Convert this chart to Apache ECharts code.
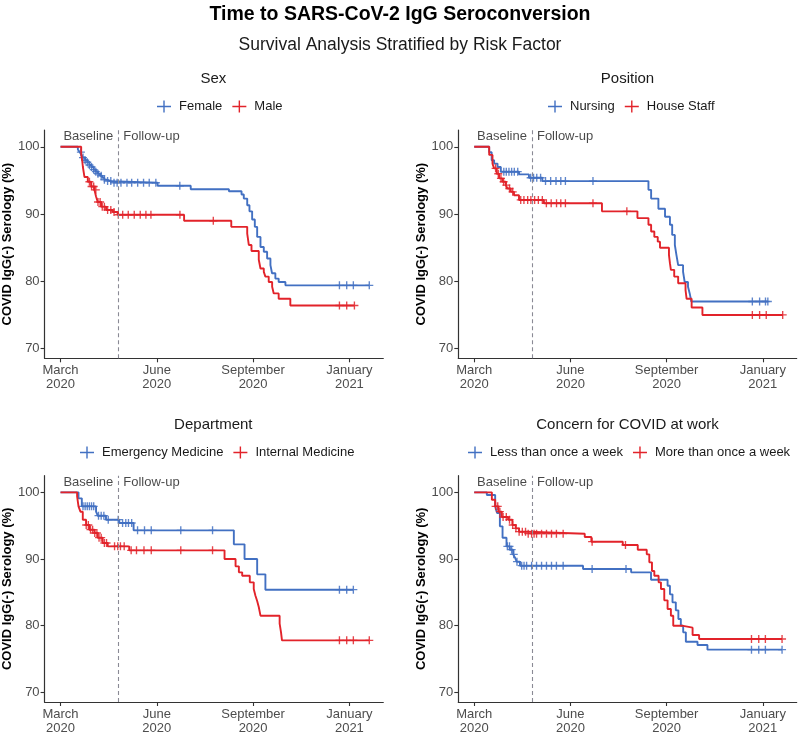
<!DOCTYPE html>
<html>
<head>
<meta charset="utf-8">
<script src="https://cdn.jsdelivr.net/npm/echarts@6/dist/echarts.min.js"></script>
<style>
html,body{margin:0;padding:0;background:#fff;}
#chart{width:800px;height:735px;}
</style>
</head>
<body>
<div id="chart"></div>
<script>
// ---------- DATA ----------
const xTickDays = [0, 90, 180, 270];
const xTickLabels = ['March\n2020', 'June\n2020', 'September\n2020', 'January\n2021'];
const yTicks = [70, 80, 90, 100];
const baselineDay = 54;
const annotationY = 101.5;

// Panel 1: Sex
const femaleSteps = [[0,100],[16.2,99.6],[18,99.2],[19.5,98.8],[21,98.4],[23,98.0],[25,97.7],[27,97.3],[29,97.0],[31,96.6],[33,96.3],[35,96.0],[37,95.7],[39,95.4],[41,95.1],[44,94.9],[47.2,94.65],[90.7,94.2],[121.7,93.7],[157.4,93.4],[169.2,92.9],[171.3,92.3],[174.5,91.3],[176.6,90.4],[179.1,89.2],[181.6,88.1],[183.8,86.6],[186.9,85.1],[190,84.4],[193.1,83.4],[196.2,82.4],[197.7,81.2],[200.8,80.4],[203.9,79.9],[210.2,79.4],[288.6,79.4]];
const femaleCensor = [19,21,23,25,27,29,31,33,35,38,41,44,47,50,52.9,56.5,62.1,66.5,72.1,77.6,82.9,89.1,111.5,260.7,267.5,273.7,288.6];
const maleSteps = [[0,100],[19.3,99.0],[20.2,98.0],[20.9,97.0],[22.4,95.5],[25.5,94.8],[28.6,94.1],[31.7,93.6],[33.2,92.6],[34.8,91.8],[37.9,91.1],[42.6,90.6],[48.8,90.3],[53.4,89.9],[115.5,89.0],[159.6,88.1],[174.5,87.1],[176,85.4],[178.5,84.5],[185.3,83.2],[186.9,81.9],[190,81.4],[191.5,80.7],[194.6,79.9],[197.8,79.2],[199.3,78.2],[203.9,77.4],[214.8,76.4],[274.7,76.4]];
const maleCensor = [27,29,31,33,35,37,39,41,44,47,50,54,58.1,63.3,68.9,74.5,79.8,84.5,111.6,142.8,260.7,267.5,274.7];

// Panel 2: Position
const nursingSteps = [[0,100],[14,99.2],[16.3,98.0],[18.6,97.5],[21.8,97.0],[24.9,96.3],[41.9,95.9],[51.2,95.4],[63.7,94.9],[163,93.6],[165.5,92.3],[172.3,90.8],[178.5,89.6],[183.1,88.4],[185.2,86.9],[187.7,85.4],[189.2,83.9],[190.8,82.4],[195.4,81.4],[196.9,79.9],[200,79.2],[201.6,78.2],[203.1,77.0],[274.7,77.0]];
const nursingCensor = [27.7,30,32.5,35,37.5,40.7,52.8,55.5,58.5,62.1,66.7,71.5,76.5,81,85.3,111.1,260.2,267,272.5,274.7];
const houseSteps = [[0,100],[14,98.8],[17.1,97.5],[18.6,96.8],[21.1,96.0],[23.3,95.3],[26.4,94.8],[29.5,94.3],[31.1,93.8],[34.2,93.3],[37.2,92.8],[41.9,92.1],[65.2,91.6],[119.5,90.4],[152.7,89.4],[163,88.4],[165.5,87.4],[168.5,86.6],[171.7,85.9],[173.8,85.0],[182.2,83.9],[183.1,82.7],[184,81.7],[187.1,80.7],[190.8,79.7],[197.7,78.7],[198.7,77.4],[203.4,76.1],[213.5,75.0],[288.6,75.0]];
const houseCensor = [20,22.5,25,27.5,30,33,36,43.5,46.5,50,53,56.5,60,63.7,67.5,72,77,81,85.3,111.1,142.8,260.2,267,273.2,288.6];

// Panel 3: Department
const emSteps = [[0,100],[16.8,99.1],[19.9,97.9],[33.2,97.1],[34.8,96.5],[42.5,95.9],[54.9,95.4],[68.3,94.3],[162,92.2],[172,90.0],[183.8,87.7],[191.5,85.4],[273.7,85.4]];
const emCensor = [21,23,25,27,29,31,35.5,38,40.5,44.6,53.9,58,61,63.5,66.5,72,78.5,84.8,112.4,142.1,260.7,267.5,273.7];
const imSteps = [[0,100],[15.5,99.4],[16.8,97.9],[18.6,97.1],[20.8,95.9],[23.9,95.1],[27,94.4],[31.7,93.9],[34.8,93.2],[39.4,92.4],[44.1,91.9],[64.2,91.3],[153.3,90.0],[163.6,88.9],[166.7,88.0],[169.8,87.5],[176.9,86.5],[180.6,85.5],[182.2,84.5],[183.8,83.7],[185.3,82.8],[186.9,81.5],[204.8,80.3],[206.1,79.0],[207,77.8],[288.6,77.8]];
const imCensor = [24,26,28,30,32,34,36,38,41,43,50.5,53.5,56,59.5,66,71,78,84.8,112.4,142.1,260.7,267.5,273.7,288.6];

// Panel 4: Concern for COVID at work
const lessSteps = [[0,100],[11.8,99.6],[19.6,97.9],[21.4,96.9],[24,94.9],[26.5,93.2],[30.2,91.9],[33.3,91.4],[36.4,90.7],[38.2,90.2],[39.7,89.6],[42.8,89.0],[101.8,88.5],[146.8,88.0],[165.4,86.9],[180.9,86.0],[183.1,84.7],[185.5,83.5],[188.6,82.3],[191,81.0],[193.3,80.0],[195.5,79.0],[198,77.6],[208.9,77.1],[218.2,76.4],[288,76.4]];
const lessCensor = [31,33,35,37,40,44.4,46.6,49,53.7,58.3,63,67.6,72.3,76.9,83.2,110.3,142,259.4,266.2,272.4,288];
const moreSteps = [[0,100],[16.5,98.9],[19.6,97.9],[22.7,97.1],[25.8,96.3],[31.7,95.9],[35.7,95.1],[38.8,94.6],[41.9,94.1],[49.7,93.8],[103.4,93.3],[109.6,92.6],[139,92.1],[153,91.4],[161.4,90.7],[163.8,89.5],[166.3,88.2],[168.5,87.5],[172.5,86.5],[174.7,85.5],[177.8,83.8],[180.9,82.5],[184,81.5],[186.2,80.0],[194.3,79.7],[204.3,78.6],[210.4,78.0],[288,78.0]];
const moreCensor = [20,22,24,27,30,33,36,39,42,45,48,50.5,53.7,56,58.3,63,67.6,72.3,76.9,83.2,110.3,141.5,259.4,266.2,272.4,288];

const panelTitles = ['Sex', 'Position', 'Department', 'Concern for COVID at work'];
const groupNames = [['Female','Male'], ['Nursing','House Staff'], ['Emergency Medicine','Internal Medicine'], ['Less than once a week','More than once a week']];
const groupSteps = [[femaleSteps, maleSteps], [nursingSteps, houseSteps], [emSteps, imSteps], [lessSteps, moreSteps]];
const groupCensor = [[femaleCensor, maleCensor], [nursingCensor, houseCensor], [emCensor, imCensor], [lessCensor, moreCensor]];

// ---------- LAYOUT / STYLE ----------
const FONT = '"Liberation Sans", Arial, Helvetica, sans-serif';
const COLORS = ['#4270C2', '#E2232A'];
const grids = [
  {left: 43.3, top: 130, width: 340, height: 228.3},
  {left: 458.3, top: 130, width: 338.4, height: 228.3},
  {left: 43.3, top: 475.7, width: 340, height: 227.6},
  {left: 458.3, top: 475.7, width: 338.4, height: 227.6}
];
const legendLeft = [157, 548, 80, 468];
const legendTop = [100, 100, 446, 446];
const plusIcon = 'path://M0,5.2H6.3V0H7.7V5.2H14V6.8H7.7V12H6.3V6.8H0Z';
const censorSymbol = 'path://M-0.17,-1H0.17V-0.17H1V0.17H0.17V1H-0.17V0.17H-1V-0.17H-0.17Z';

function stepAt(steps, d) {
  let v = steps[0][1];
  for (const p of steps) { if (p[0] <= d + 1e-9) v = p[1]; else break; }
  return v;
}

const option = {
  animation: false,
  backgroundColor: '#ffffff',
  textStyle: {fontFamily: FONT},
  grid: grids.map(g => Object.assign({containLabel: false}, g)),
  xAxis: [], yAxis: [], series: [], legend: [],
  graphic: []
};

option.graphic.push({type: 'text', x: 400, y: 15, style: {text: 'Time to SARS-CoV-2 IgG Seroconversion', font: 'bold 19.5px ' + FONT, fill: '#000', align: 'center', verticalAlign: 'middle'}});
option.graphic.push({type: 'text', x: 400, y: 45, style: {text: 'Survival Analysis Stratified by Risk Factor', font: '17.5px ' + FONT, fill: '#1a1a1a', align: 'center', verticalAlign: 'middle'}});

for (let i = 0; i < 4; i++) {
  const g = grids[i];
  option.graphic.push({type: 'text', x: g.left + g.width / 2, y: g.top - 51, style: {text: panelTitles[i], font: '15px ' + FONT, fill: '#1a1a1a', align: 'center', verticalAlign: 'middle'}});

  option.xAxis.push({
    type: 'value', gridIndex: i, min: -14.9, max: 301.7,
    splitLine: {show: false},
    axisLine: {show: true, onZero: false, lineStyle: {color: '#333', width: 1.2}},
    axisTick: {show: true, customValues: xTickDays, length: 4, lineStyle: {color: '#333', width: 1.1}},
    axisLabel: {show: true, customValues: xTickDays, fontSize: 13, lineHeight: 14, color: '#4d4d4d', margin: 5, fontFamily: FONT,
      formatter: v => { const k = xTickDays.indexOf(v); return k >= 0 ? xTickLabels[k] : ''; }}
  });
  option.yAxis.push({
    type: 'value', gridIndex: i, min: 68.55, max: 102.5,
    name: 'COVID IgG(-) Serology (%)', nameLocation: 'middle', nameGap: 27,
    nameTextStyle: {fontSize: 13, fontWeight: 'bold', color: '#000', fontFamily: FONT},
    splitLine: {show: false},
    axisLine: {show: true, onZero: false, lineStyle: {color: '#333', width: 1.2}},
    axisTick: {show: true, customValues: yTicks, length: 4, lineStyle: {color: '#333', width: 1.1}},
    axisLabel: {show: true, customValues: yTicks, fontSize: 13, color: '#4d4d4d', margin: 5, fontFamily: FONT}
  });

  option.legend.push({
    left: legendLeft[i], top: legendTop[i], orient: 'horizontal', padding: 0, width: 380,
    itemWidth: 14, itemHeight: 12, itemGap: 10,
    textStyle: {fontSize: 13, color: '#1a1a1a', fontFamily: FONT, padding: [0, 0, 0, 3]},
    data: groupNames[i].map(n => ({name: n, icon: plusIcon}))
  });

  for (let s = 0; s < 2; s++) {
    const steps = groupSteps[i][s];
    const ser = {
      type: 'line', name: groupNames[i][s], xAxisIndex: i, yAxisIndex: i,
      data: steps, step: 'end', showSymbol: false, symbol: 'none',
      color: COLORS[s],
      lineStyle: {width: 1.9, color: COLORS[s]},
      itemStyle: {color: COLORS[s]},
      z: 3 + s
    };
    if (s === 0) {
      ser.markLine = {
        silent: true, symbol: ['none', 'none'], label: {show: false},
        lineStyle: {type: [4, 3], color: '#8a8a95', width: 1.1},
        data: [{xAxis: baselineDay}]
      };
    }
    option.series.push(ser);
    option.series.push({
      type: 'scatter', name: groupNames[i][s] + ' censored', xAxisIndex: i, yAxisIndex: i,
      data: groupCensor[i][s].map(d => [d, stepAt(steps, d)]),
      symbol: censorSymbol, symbolSize: 8,
      itemStyle: {color: COLORS[s], opacity: 0.85},
      z: 3 + s
    });
  }
  option.series.push({
    type: 'scatter', name: 'annot' + i, xAxisIndex: i, yAxisIndex: i,
    data: [[baselineDay, annotationY]], symbolSize: 0, silent: true,
    label: {show: true, position: 'left', distance: 5, formatter: 'Baseline', fontSize: 13, color: '#1a1a1a', fontFamily: FONT}
  });
  option.series.push({
    type: 'scatter', name: 'annot2' + i, xAxisIndex: i, yAxisIndex: i,
    data: [[baselineDay, annotationY]], symbolSize: 0, silent: true,
    label: {show: true, position: 'right', distance: 5, formatter: 'Follow-up', fontSize: 13, color: '#1a1a1a', fontFamily: FONT}
  });
}

const chart = echarts.init(document.getElementById('chart'), null, {renderer: 'canvas'});
chart.setOption(option);
</script>
</body>
</html>
